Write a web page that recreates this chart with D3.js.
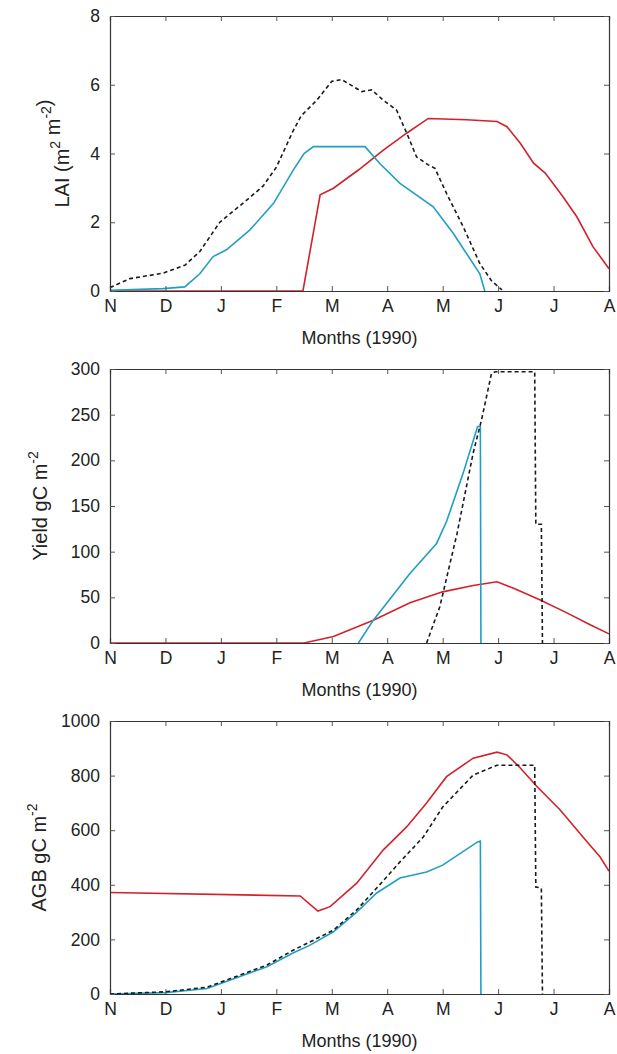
<!DOCTYPE html>
<html>
<head>
<meta charset="utf-8">
<script src="https://cdn.jsdelivr.net/npm/d3@7"></script>
<style>
  body { margin: 0; background: #fff; }
  text { font-family: "Liberation Sans", Arial, sans-serif; fill: #222; }
</style>
</head>
<body>
<div id="chart"></div>
<script>
// month letters, Nov 1989 .. Aug 1990 (x value = months since 1 Nov)
var monthLabels = ['N', 'D', 'J', 'F', 'M', 'A', 'M', 'J', 'J', 'A'];

// LAI (m2 m-2)
var laiTicks = [0, 2, 4, 6, 8];
var laiDashed = [[0,0.1],[0.36,0.36],[0.96,0.52],[1.35,0.75],[1.62,1.15],[1.98,2.0],[2.47,2.65],[2.76,3.05],[3.0,3.6],[3.3,4.65],[3.45,5.1],[3.73,5.55],[4.0,6.1],[4.18,6.15],[4.54,5.8],[4.72,5.85],[4.93,5.55],[5.17,5.26],[5.35,4.6],[5.53,3.9],[5.74,3.67],[5.86,3.57],[6.07,2.84],[6.37,1.87],[6.67,0.8],[6.88,0.3],[7.07,0.03]];
var laiCyan = [[0,0.02],[0.96,0.07],[1.35,0.12],[1.62,0.5],[1.86,1.0],[2.1,1.2],[2.52,1.77],[2.95,2.55],[3.3,3.5],[3.5,4.0],[3.67,4.2],[4.6,4.2],[4.87,3.7],[5.23,3.13],[5.83,2.45],[6.19,1.68],[6.67,0.5],[6.76,0]];
var laiRed = [[0,0],[3.48,0],[3.79,2.8],[4.03,2.99],[4.48,3.52],[4.93,4.1],[5.35,4.59],[5.74,5.02],[6.43,4.98],[6.98,4.93],[7.16,4.78],[7.4,4.3],[7.64,3.72],[7.85,3.43],[8.17,2.74],[8.42,2.16],[8.71,1.29],[9.0,0.65]];

// Yield (gC m-2)
var yieldTicks = [0, 50, 100, 150, 200, 250, 300];
var yieldDashed = [[5.71,0],[5.95,40],[6.26,120],[6.55,208],[6.7,244],[6.88,295],[6.95,297],[7.66,297],[7.68,130],[7.78,130],[7.8,0]];
var yieldCyan = [[4.48,0],[4.75,25],[5.41,76],[5.89,109],[6.07,133],[6.37,186],[6.63,237],[6.68,237],[6.69,0]];
var yieldRed = [[0,0],[3.5,0],[4.03,7],[4.75,25],[5.41,44],[6.0,56],[6.55,63],[6.98,67],[7.28,60],[7.76,47],[8.24,33],[8.66,20],[9.0,10]];

// AGB (gC m-2)
var agbTicks = [0, 200, 400, 600, 800, 1000];
var agbDashed = [[0,0],[1.0,8],[1.75,25],[2.22,60],[2.83,106],[3.3,160],[3.6,190],[4.03,234],[4.45,308],[4.81,388],[5.23,484],[5.65,575],[6.0,685],[6.55,802],[6.98,838],[7.66,838],[7.68,392],[7.78,388],[7.8,0]];
var agbCyan = [[0,0],[1.0,5],[1.75,20],[2.22,55],[2.83,100],[3.3,150],[3.6,178],[4.03,228],[4.45,300],[4.81,370],[5.23,425],[5.71,447],[6.0,472],[6.63,557],[6.68,560],[6.69,0]];
var agbRed = [[0,372],[3.43,359],[3.75,304],[3.97,320],[4.45,406],[4.93,528],[5.35,612],[5.71,700],[6.07,796],[6.55,864],[6.98,886],[7.16,876],[7.4,828],[7.7,760],[8.12,674],[8.53,575],[8.84,502],[9.0,450]];

var W = 617, H = 1054;
var left = 110, right = 609;

var svg = d3.select('#chart').append('svg')
  .attr('width', W)
  .attr('height', H);

var x = d3.scaleLinear().domain([0, 9]).range([left, right]);

function panel(opts) {
  var y = d3.scaleLinear().domain(opts.domain).range([opts.bottom, opts.top]);
  var g = svg.append('g');

  var line = d3.line()
    .x(function(d) { return x(d[0]); })
    .y(function(d) { return y(d[1]); });

  // series (red, cyan, black dashed)
  g.append('path').datum(opts.red)
    .attr('d', line).attr('fill', 'none')
    .attr('stroke', '#d3212b').attr('stroke-width', 1.6);
  g.append('path').datum(opts.cyan)
    .attr('d', line).attr('fill', 'none')
    .attr('stroke', '#1f9fc4').attr('stroke-width', 1.6);
  g.append('path').datum(opts.dashed)
    .attr('d', line).attr('fill', 'none')
    .attr('stroke', '#1a1a1a').attr('stroke-width', 1.6)
    .attr('stroke-dasharray', '4,3');

  // axes, ticks inward on all four sides
  var xb = d3.axisBottom(x).tickValues(d3.range(10)).tickSize(-5).tickPadding(9)
    .tickFormat(function(d) { return monthLabels[d]; });
  var xt = d3.axisTop(x).tickValues(d3.range(10)).tickSize(-5).tickFormat('');
  var yl = d3.axisLeft(y).tickValues(opts.ticks).tickSize(-5).tickPadding(10)
    .tickFormat(d3.format('d'));
  var yr = d3.axisRight(y).tickValues(opts.ticks).tickSize(-5).tickFormat('');

  [[xb, 'translate(0,' + opts.bottom + ')'], [xt, 'translate(0,' + opts.top + ')'],
   [yl, 'translate(' + left + ',0)'], [yr, 'translate(' + right + ',0)']].forEach(function(a) {
    var ax = g.append('g').attr('transform', a[1]).call(a[0]);
    ax.select('.domain').attr('stroke', '#333').attr('stroke-width', 1.2);
    ax.selectAll('.tick line').attr('stroke', '#555');
    ax.selectAll('.tick text').style('font-size', '17.5px').attr('fill', '#222');
  });

  g.append('text')
    .attr('x', (left + right) / 2)
    .attr('y', opts.bottom + 53)
    .attr('text-anchor', 'middle')
    .style('font-size', '18px')
    .text('Months (1990)');

  var yt = g.append('text')
    .attr('transform', 'translate(' + opts.labelX + ',' + (opts.top + opts.bottom) / 2 + ') rotate(-90)')
    .attr('text-anchor', 'middle')
    .style('font-size', '20px');
  opts.label(yt);
}

function sup(t, s) {
  t.append('tspan').attr('dy', -9).style('font-size', '14px').text(s);
  t.append('tspan').attr('dy', 9).text('');
}

panel({
  top: 16, bottom: 291, domain: [0, 8], ticks: laiTicks,
  red: laiRed, cyan: laiCyan, dashed: laiDashed, labelX: 69,
  label: function(t) {
    t.append('tspan').text('LAI (m');
    sup(t, '2');
    t.append('tspan').text(' m');
    sup(t, '-2');
    t.append('tspan').text(')');
  }
});

panel({
  top: 369, bottom: 643, domain: [0, 300], ticks: yieldTicks,
  red: yieldRed, cyan: yieldCyan, dashed: yieldDashed, labelX: 47,
  label: function(t) {
    t.append('tspan').text('Yield gC m');
    sup(t, '-2');
  }
});

panel({
  top: 721, bottom: 994, domain: [0, 1000], ticks: agbTicks,
  red: agbRed, cyan: agbCyan, dashed: agbDashed, labelX: 46,
  label: function(t) {
    t.append('tspan').text('AGB gC m');
    sup(t, '-2');
  }
});
</script>
</body>
</html>
